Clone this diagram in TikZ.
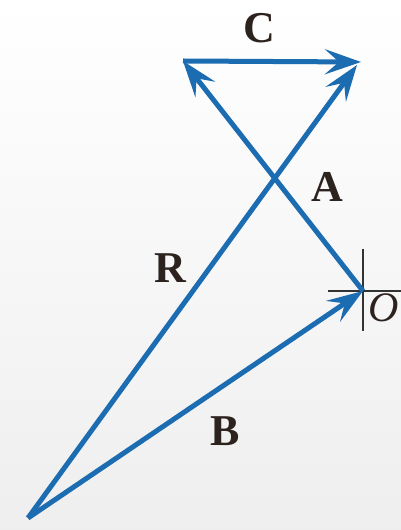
\documentclass[tikz,border=0pt]{standalone}
\usepackage{fontspec}
\setmainfont{Liberation Serif}
\usepackage{tikz}
\usetikzlibrary{arrows.meta, positioning, calc}
\definecolor{vecblue}{RGB}{28,108,178}
\definecolor{lbltext}{RGB}{45,35,30}

\begin{document}
\begin{tikzpicture}[
            x=1pt, y=1pt,
            vec/.style={draw=vecblue, line width=5pt, -{Stealth[length=36pt, width=25pt, inset=14pt]}},
            lbl/.style={font=\fontsize{44}{46}\selectfont\bfseries, text=lbltext},
            cross/.style={draw=black!80, line width=1.8pt}
        ]
            % 背景
            \shade[top color=white, bottom color=gray!13] (0,0) rectangle (401,530);
            \useasboundingbox (0,0) rectangle (401,530);

            % 点の定義
            \coordinate (S) at (28,12);
            \coordinate (O) at (363,239);
            \coordinate (P) at (183,469);
            \coordinate (Q) at (361,468);
            \coordinate (Rtip) at (357,465);

            % 原点の十字
            \draw[cross] ($(O)+(-35,0)$) -- ($(O)+(40,0)$);
            \draw[cross] ($(O)+(0,42)$) -- ($(O)+(0,-40)$);

            % ベクトル
            \draw[vec] (S) -- (O);
            \draw[vec] (S) -- (Rtip);
            \draw[vec] (O) -- (P);
            \draw[vec] (P) -- (Q);

            % ラベル
            \node[lbl] (lblC) at (259,502) {C};
            \node[lbl] (lblA) at (327,343) {A};
            \node[lbl] (lblR) at (170,262) {R};
            \node[lbl] (lblB) at (225,99) {B};
            \node[font=\fontsize{42}{44}\selectfont\itshape, text=lbltext, anchor=west, inner sep=0pt] (lblO) at (368,222) {O};
          \end{tikzpicture}
\end{document}
